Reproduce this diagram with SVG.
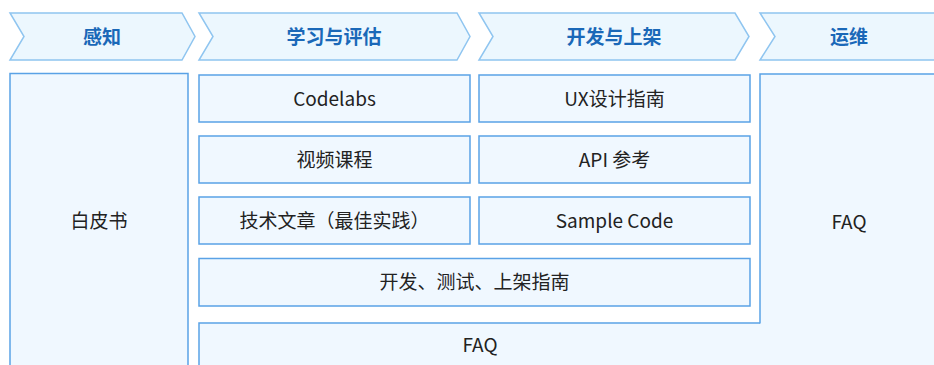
<svg xmlns="http://www.w3.org/2000/svg" width="934" height="365" viewBox="0 0 934 365">
<style>
.chev{fill:#ecf7fe;stroke:#8fc5f0;stroke-width:1.5}
.box{fill:#f0f8ff;stroke:#5aa2e6;stroke-width:1.5}
.fill{fill:#f0f8ff}
.edge{fill:none;stroke:#5aa2e6;stroke-width:1.5}
.t{font-family:"Noto Sans CJK SC","Noto Sans",sans-serif;font-size:19px;text-anchor:middle;dominant-baseline:central;fill:#222222}
.h{font-family:"Noto Sans CJK SC","Noto Sans",sans-serif;font-size:19px;font-weight:bold;text-anchor:middle;dominant-baseline:central;fill:#1a68b8}
</style>
<rect width="934" height="365" fill="#ffffff"/>
<g id="stage-perceive">
<polygon class="chev" points="10,13 182,13 195,36.5 182,60 10,60 24,36.5"/>
<text class="h" x="102" y="35">感知</text>
</g>
<g id="stage-learn">
<polygon class="chev" points="199,13 457,13 470,36.5 457,60 199,60 213,36.5"/>
<text class="h" x="334" y="35">学习与评估</text>
</g>
<g id="stage-dev">
<polygon class="chev" points="479,13 735,13 749,36.5 735,60 479,60 493,36.5"/>
<text class="h" x="614" y="35">开发与上架</text>
</g>
<g id="stage-ops">
<polygon class="chev" points="760,13 950,13 962,36.5 950,60 760,60 775,36.5"/>
<text class="h" x="849" y="35">运维</text>
</g>
<g id="whitepaper">
<rect class="box" x="10" y="73.5" width="178" height="320"/>
<text class="t" x="99" y="219.5">白皮书</text>
</g>
<g id="ops-faq">
<rect class="box" x="760" y="74" width="220" height="320"/>
<text class="t" x="849" y="220.5">FAQ</text>
</g>
<g id="learn-faq">
<rect class="fill" x="199" y="323.5" width="600" height="60"/>
<path class="edge" d="M199,380 V323 H760"/>
<text class="t" x="480" y="343.5">FAQ</text>
</g>
<g id="codelabs">
<rect class="box" x="199" y="75" width="271" height="47"/>
<text class="t" x="334.5" y="97">Codelabs</text>
</g>
<g id="video">
<rect class="box" x="199" y="136" width="271" height="47"/>
<text class="t" x="334.5" y="158">视频课程</text>
</g>
<g id="articles">
<rect class="box" x="199" y="197" width="271" height="47"/>
<text class="t" x="334.5" y="219">技术文章（最佳实践）</text>
</g>
<g id="ux">
<rect class="box" x="479" y="75" width="271" height="47"/>
<text class="t" x="614.5" y="97">UX设计指南</text>
</g>
<g id="api">
<rect class="box" x="479" y="136" width="271" height="47"/>
<text class="t" x="614.5" y="158">API 参考</text>
</g>
<g id="sample">
<rect class="box" x="479" y="197" width="271" height="47"/>
<text class="t" x="614.5" y="219">Sample Code</text>
</g>
<g id="guide">
<rect class="box" x="199" y="258.5" width="551" height="47.5"/>
<text class="t" x="474.5" y="280.5">开发、测试、上架指南</text>
</g>
<g id="connectors"></g>
</svg>
